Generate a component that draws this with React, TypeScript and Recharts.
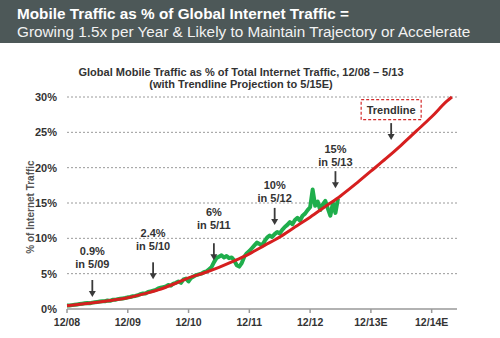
import { LineChart, Line, XAxis, YAxis, CartesianGrid, ReferenceDot, Label } from 'recharts';

// x axis is months since 12/08
const tickMonths = [0, 12, 24, 36, 48, 60, 72];
const tickLabels = ['12/08', '12/09', '12/10', '12/11', '12/12', '12/13E', '12/14E'];
const yTicks = [0, 5, 10, 15, 20, 25, 30];

// trendline projection, every 3 months (last point = 4/15)
const trendMonths = [0, 3, 6, 9, 12, 15, 18, 21, 24, 27, 30, 33, 36, 39, 42, 45, 48, 51, 54, 57, 60, 63, 66, 69, 72, 75, 76];
const trendValues = [0.45, 0.7, 0.95, 1.25, 1.6, 2.1, 2.7, 3.5, 4.4, 5.1, 5.9, 6.8, 7.8, 9.0, 10.2, 11.6, 13.0, 14.5, 16.0, 17.7, 19.5, 21.3, 23.2, 25.2, 27.2, 29.4, 30.0];

// measured mobile share (%), twice a month from 12/08 to 5/13
const mobileValues = [
  0.5, 0.5, 0.55, 0.6, 0.65, 0.7, 0.75, 0.8, 0.85, 0.8,
  0.9, 0.95, 1.0, 1.05, 1.1, 1.1, 1.2, 1.15, 1.3, 1.3,
  1.4, 1.45, 1.5, 1.55, 1.65, 1.7, 1.8, 1.85, 1.95, 2.1,
  2.2, 2.2, 2.4, 2.5, 2.6, 2.7, 2.9, 3.0, 3.1, 3.2,
  3.4, 3.3, 3.6, 3.7, 3.9, 3.7, 4.2, 4.3, 3.9, 4.4,
  4.6, 4.8, 4.9, 5.0, 5.2, 5.3, 5.6, 5.9, 6.6, 7.2,
  7.4, 7.6, 7.3, 7.5, 7.2, 7.3, 6.9, 6.2, 6.0, 6.5,
  7.4, 7.9, 8.2, 8.6, 9.0, 9.4, 9.2, 9.0, 9.6, 10.1,
  10.4, 10.2, 10.6, 10.9, 10.7, 11.2, 11.6, 11.9, 12.3, 12.0,
  12.6, 12.9, 12.5, 13.2, 13.5, 14.0, 14.4, 16.9, 14.6, 15.2,
  14.0, 14.8, 15.3, 14.2, 13.2, 15.0, 13.6, 15.6,
];

// callouts: month, arrow tip (%), text centre (%)
const calloutMonths = [5, 17, 29, 41, 53];
const calloutTips = [1.7, 4.2, 6.9, 11.9, 17.1];
const calloutTextAt = [7.3, 9.9, 12.8, 16.6, 21.7];
const calloutTop = ['0.9%', '2.4%', '6%', '10%', '15%'];
const calloutBottom = ['in 5/09', 'in 5/10', 'in 5/11', 'in 5/12', 'in 5/13'];

const trendCalloutMonth = 64;
const trendCalloutTip = 23.9;
const trendCalloutText = 28.2;

const FONT = '"Liberation Sans", Arial, Helvetica, sans-serif';
const INK = '#333';

const rowsByMonth = new Map<number, { m: number; mobile?: number; trend?: number }>();
mobileValues.forEach((v, i) => {
  const m = i / 2;
  rowsByMonth.set(m, { ...(rowsByMonth.get(m) || { m }), mobile: v });
});
trendMonths.forEach((m, i) => {
  rowsByMonth.set(m, { ...(rowsByMonth.get(m) || { m }), trend: trendValues[i] });
});
const data = Array.from(rowsByMonth.values()).sort((a, b) => a.m - b.m);

function Arrow({ cx, cy }: any) {
  return (
    <g>
      <line x1={cx} y1={cy - 17} x2={cx} y2={cy - 5} stroke="#3a3a3a" strokeWidth={1.8} />
      <polygon points={`${cx - 3.5},${cy - 6} ${cx + 3.5},${cy - 6} ${cx},${cy}`} fill="#3a3a3a" />
    </g>
  );
}

function TwoLines({ cx, cy, top, bottom }: any) {
  return (
    <g fontFamily={FONT} fontSize={11} fontWeight="bold" fill={INK} textAnchor="middle">
      <text x={cx} y={cy - 6.5} dominantBaseline="central">{top}</text>
      <text x={cx} y={cy + 6.5} dominantBaseline="central">{bottom}</text>
    </g>
  );
}

function TrendBox({ cx, cy }: any) {
  return (
    <g>
      <rect x={cx - 30} y={cy - 10} width={60} height={20} fill="#fff" stroke="#d42a2a" strokeWidth={1.2} strokeDasharray="3 2" />
      <text x={cx} y={cy} dominantBaseline="central" textAnchor="middle" fontFamily={FONT} fontSize={11} fontWeight="bold" fill={INK}>
        Trendline
      </text>
    </g>
  );
}

function YTitle({ viewBox }: any) {
  const x = viewBox.x + 3;
  const y = viewBox.y + viewBox.height / 2 + 4;
  return (
    <text x={x} y={y} transform={`rotate(-90 ${x} ${y})`} textAnchor="middle" dominantBaseline="central" fontFamily={FONT} fontSize={10} fontWeight="bold" fill="#555">
      % of Internet Traffic
    </text>
  );
}

export default function App() {
  return (
    <div style={{ position: 'absolute', left: 0, top: 0, width: 500, height: 338, background: '#fff', overflow: 'hidden', fontFamily: FONT }}>
      <div style={{ position: 'absolute', left: 0, top: 0, width: 500, height: 43, background: '#4d5858' }} />
      <div style={{ position: 'absolute', left: 17, top: 5, fontSize: 15.3, lineHeight: '18px', fontWeight: 'bold', color: '#fff', whiteSpace: 'nowrap' }}>
        Mobile Traffic as % of Global Internet Traffic =
      </div>
      <div style={{ position: 'absolute', left: 17, top: 23, fontSize: 15.3, lineHeight: '18px', color: '#f2f2f2', whiteSpace: 'nowrap' }}>
        Growing 1.5x per Year &amp; Likely to Maintain Trajectory or Accelerate
      </div>
      <div style={{ position: 'absolute', left: 0, width: 482, top: 66, fontSize: 11, lineHeight: '13px', fontWeight: 'bold', color: INK, textAlign: 'center', whiteSpace: 'nowrap' }}>
        Global Mobile Traffic as % of Total Internet Traffic, 12/08 – 5/13
      </div>
      <div style={{ position: 'absolute', left: 0, width: 482, top: 78, fontSize: 11, lineHeight: '13px', fontWeight: 'bold', color: INK, textAlign: 'center', whiteSpace: 'nowrap' }}>
        (with Trendline Projection to 5/15E)
      </div>
      <div style={{ position: 'absolute', left: 0, top: 0 }}>
        <LineChart width={500} height={338} data={data} margin={{ top: 97, right: 43, bottom: 9, left: 27 }}>
          <CartesianGrid vertical={false} stroke="#9a9a9a" strokeDasharray="2 2" horizontalValues={[5, 10, 15, 20, 25, 30]} />
          <XAxis
            dataKey="m"
            type="number"
            domain={[0, 77]}
            ticks={tickMonths}
            tickFormatter={(v) => tickLabels[tickMonths.indexOf(v)]}
            height={20}
            stroke="#999"
            strokeWidth={1.5}
            tickSize={4}
            tickMargin={6}
            tick={{ fill: INK, fontSize: 10.5, fontWeight: 'bold', fontFamily: FONT }}
          />
          <YAxis
            type="number"
            domain={[0, 30]}
            ticks={yTicks}
            tickFormatter={(v) => `${v}%`}
            width={40}
            axisLine={false}
            tickLine={false}
            tickMargin={4}
            tick={{ fill: INK, fontSize: 11, fontWeight: 'bold', fontFamily: FONT }}
          >
            <Label content={YTitle} />
          </YAxis>
          <Line dataKey="mobile" stroke="#1fae4c" strokeWidth={4} dot={false} connectNulls isAnimationActive={false} strokeLinejoin="round" />
          <Line dataKey="trend" type="monotone" stroke="#d61f1f" strokeWidth={3} dot={false} connectNulls isAnimationActive={false} />
          {calloutMonths.map((m, i) => (
            <ReferenceDot key={`a${i}`} x={m} y={calloutTips[i]} r={0} ifOverflow="visible" shape={(p: any) => <Arrow cx={p.cx} cy={p.cy} />} />
          ))}
          {calloutMonths.map((m, i) => (
            <ReferenceDot key={`t${i}`} x={m} y={calloutTextAt[i]} r={0} ifOverflow="visible" shape={(p: any) => <TwoLines cx={p.cx} cy={p.cy} top={calloutTop[i]} bottom={calloutBottom[i]} />} />
          ))}
          <ReferenceDot x={trendCalloutMonth} y={trendCalloutTip} r={0} ifOverflow="visible" shape={(p: any) => <Arrow cx={p.cx} cy={p.cy} />} />
          <ReferenceDot x={trendCalloutMonth} y={trendCalloutText} r={0} ifOverflow="visible" shape={(p: any) => <TrendBox cx={p.cx} cy={p.cy} />} />
        </LineChart>
      </div>
    </div>
  );
}
